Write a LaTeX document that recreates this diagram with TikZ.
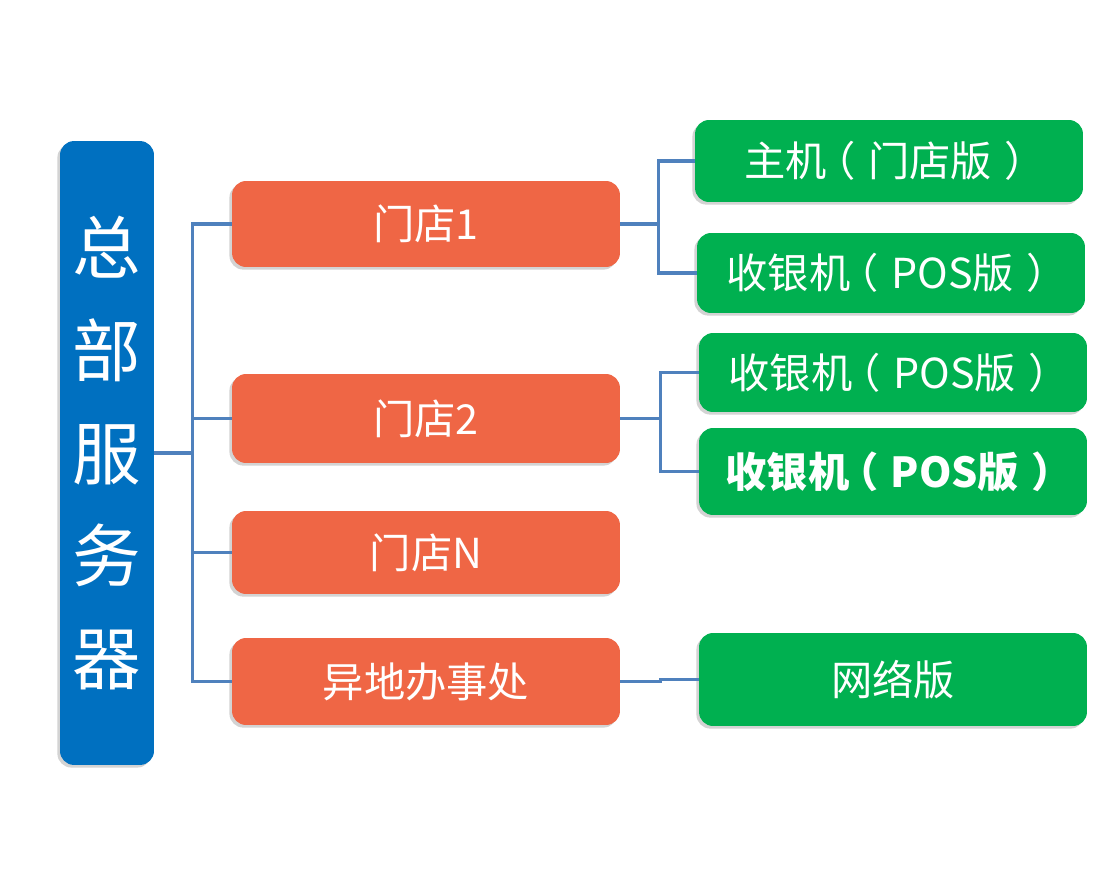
\documentclass[tikz,border=0pt]{standalone}
\usepackage{xcolor}
\usepackage{fontspec}
\usepackage{tikz}
\usetikzlibrary{shadows}
\newfontfamily\cjk{Noto Sans CJK SC}
\definecolor{hqblue}{RGB}{0,112,192}
\definecolor{shoporange}{RGB}{239,102,69}
\definecolor{devgreen}{RGB}{0,176,80}
\definecolor{linkblue}{RGB}{79,129,189}
\newcommand{\lpar}{\kern-0.3em（\kern0.3em}
\newcommand{\rpar}{\kern0.3em）\kern-0.3em}
\tikzstyle{hqbox} = [rectangle, rounded corners=8pt, minimum width=1.88cm, minimum height=12.48cm, text centered, align=center, fill=hqblue, text=white, font=\cjk\fontsize{39pt}{58.6pt}\selectfont, drop shadow={shadow xshift=-1.5pt, shadow yshift=-1.5pt, opacity=0.35}]
\tikzstyle{shop} = [rectangle, rounded corners=8pt, minimum width=7.76cm, minimum height=1.72cm, text centered, fill=shoporange, text=white, font=\cjk\fontsize{23.5pt}{28pt}\selectfont, drop shadow={shadow xshift=-1.5pt, shadow yshift=-1.5pt, opacity=0.35}]
\tikzstyle{device} = [rectangle, rounded corners=8pt, minimum width=7.76cm, minimum height=1.6cm, text centered, fill=devgreen, text=white, font=\cjk\fontsize{23.5pt}{28pt}\selectfont, drop shadow={shadow xshift=-1.5pt, shadow yshift=-1.5pt, opacity=0.35}]
\tikzstyle{link} = [draw=linkblue, line width=2pt]

\begin{document}
\begin{tikzpicture}[x=0.02cm, y=-0.02cm]
        \useasboundingbox (0,0) rectangle (1102,891);

        % Server
        \node (hq) [hqbox] at (107,453) {总\\部\\服\\务\\器};

        % Shops
        \node (shop1) [shop] at (426,224) {门店1};
        \node (shop2) [shop, minimum height=1.78cm] at (426,418.5) {门店2};
        \node (shopN) [shop, minimum height=1.66cm] at (426,552.5) {门店N};
        \node (office) [shop, minimum height=1.74cm] at (426,681.5) {异地办事处};

        % Devices
        \node (host1) [device, minimum height=1.64cm] at (889,161) {主机\lpar 门店版\rpar};
        \node (pos1) [device] at (891,273) {收银机\lpar POS版\rpar};
        \node (pos2) [device, minimum height=1.58cm] at (893,372.5) {收银机\lpar POS版\rpar};
        \node (pos3) [device, minimum height=1.74cm, font=\cjk\bfseries\fontsize{23.5pt}{28pt}\selectfont] at (893,471.5) {收银机\lpar POS版\rpar};
        \node (net) [device, minimum height=1.86cm] at (893,679.5) {网络版};

        % Links
        \draw [link] (hq.east) -- ++(38,0) coordinate (trunk);
        \draw [link] (trunk) |- (shop1.west);
        \draw [link] (trunk) |- (shop2.west);
        \draw [link] (trunk) |- (shopN.west);
        \draw [link] (trunk) |- (office.west);

        \draw [link] (shop1.east) -- ++(38,0) coordinate (fork1);
        \draw [link] (fork1) |- (host1.west);
        \draw [link] (fork1) |- (pos1.west);

        \draw [link] (shop2.east) -- ++(40,0) coordinate (fork2);
        \draw [link] (fork2) |- (pos2.west);
        \draw [link] (fork2) |- (pos3.west);

        \draw [link] (office.east) -- ++(40,0) |- (net.west);
    \end{tikzpicture}
\end{document}
